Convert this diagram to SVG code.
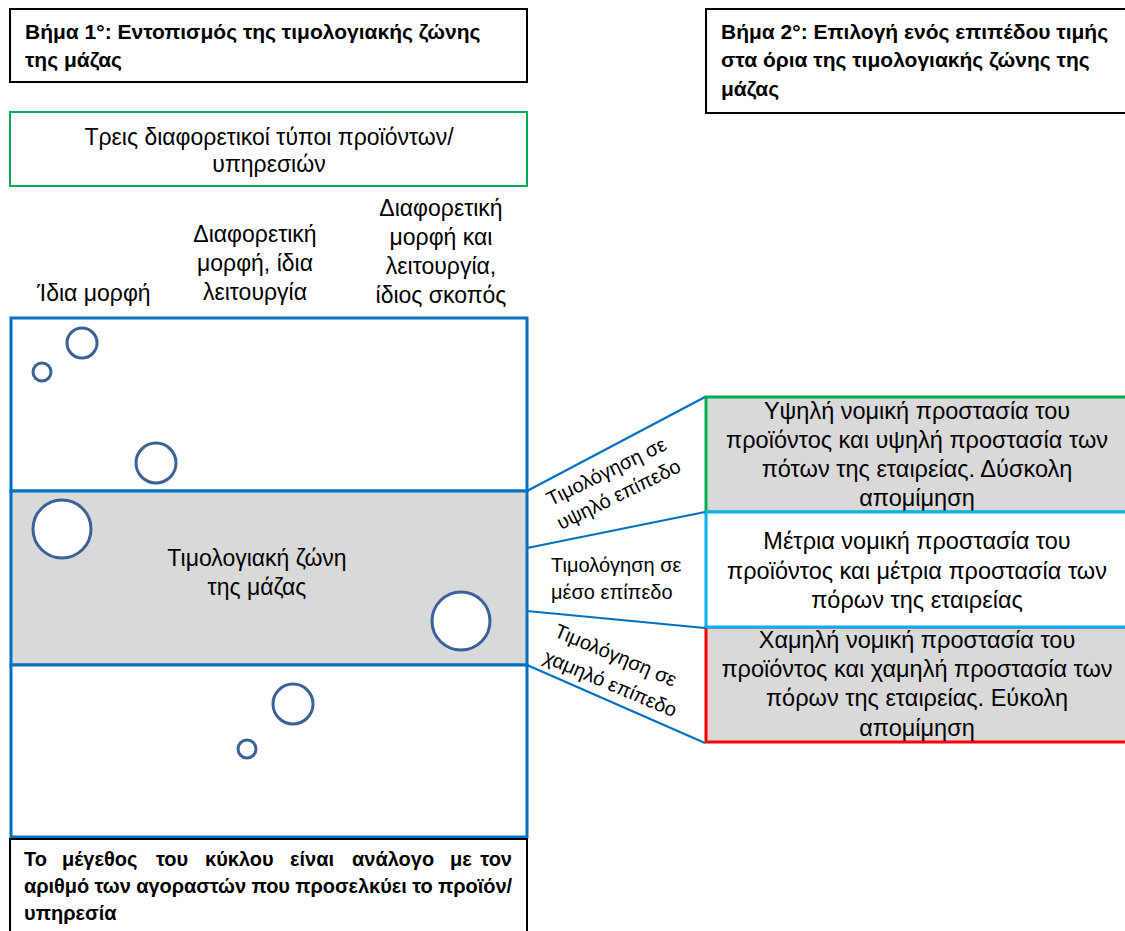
<svg xmlns="http://www.w3.org/2000/svg" width="1125" height="931" viewBox="0 0 1125 931">
<style>
text{font-family:"Liberation Sans",Arial,sans-serif;fill:#000}
.h{font-size:21px;font-weight:bold}
.c{font-size:23px;text-anchor:middle}
.r{font-size:23.5px;text-anchor:middle}
.l{font-size:20px}
.lm{font-size:20px;text-anchor:middle}
.nt{font-size:20px;font-weight:bold}
.blk{fill:#fff;stroke:#000;stroke-width:2}
.zone{stroke:#0070C0;stroke-width:3}
.circ{fill:#fff;stroke:#3A6296;stroke-width:3}
.conn{stroke:#0070C0;stroke-width:2.2;fill:none}
</style>
<rect width="1125" height="931" fill="#fff"/>
<g id="step1">
<rect class="blk" x="10" y="9" width="517" height="73"/>
<text class="h" x="25" y="39">Βήμα 1°: Εντοπισμός της τιμολογιακής ζώνης</text>
<text class="h" x="25" y="67">της μάζας</text>
</g>
<g id="step2">
<rect class="blk" x="706" y="9" width="430" height="104"/>
<text class="h" x="721" y="39">Βήμα 2°: Επιλογή ενός επιπέδου τιμής</text>
<text class="h" x="721" y="67">στα όρια της τιμολογιακής ζώνης της</text>
<text class="h" x="721" y="96">μάζας</text>
</g>
<g id="types">
<rect x="10" y="112" width="517" height="74" fill="#fff" stroke="#00B050" stroke-width="2"/>
<text class="c" x="269" y="145">Τρεις διαφορετικοί τύποι προϊόντων/</text>
<text class="c" x="269" y="172">υπηρεσιών</text>
</g>
<g id="col1">
<text class="c" x="94" y="301">Ίδια μορφή</text>
</g>
<g id="col2">
<text class="c" x="255" y="242">Διαφορετική</text>
<text class="c" x="255" y="271">μορφή, ίδια</text>
<text class="c" x="255" y="300">λειτουργία</text>
</g>
<g id="col3">
<text class="c" x="441" y="216">Διαφορετική</text>
<text class="c" x="441" y="245">μορφή και</text>
<text class="c" x="441" y="274">λειτουργία,</text>
<text class="c" x="441" y="303">ίδιος σκοπός</text>
</g>
<g id="zone-top">
<rect class="zone" x="11" y="318" width="516" height="173" fill="#fff"/>
<circle class="circ" cx="82" cy="343" r="15"/>
<circle class="circ" cx="42" cy="372" r="9"/>
<circle class="circ" cx="156" cy="463" r="20"/>
</g>
<g id="zone-mass">
<rect class="zone" x="11" y="491" width="516" height="174" fill="#D9D9D9"/>
<circle class="circ" cx="62" cy="529" r="29"/>
<circle class="circ" cx="461" cy="621" r="29"/>
<text class="c" x="257" y="566">Τιμολογιακή ζώνη</text>
<text class="c" x="257" y="595">της μάζας</text>
</g>
<g id="zone-bottom">
<rect class="zone" x="11" y="665" width="516" height="172" fill="#fff"/>
<circle class="circ" cx="293" cy="704" r="20"/>
<circle class="circ" cx="247" cy="749" r="9"/>
</g>
<g id="note">
<rect class="blk" x="10" y="839" width="517" height="110"/>
<text class="nt" y="866"><tspan x="24">Το</tspan><tspan x="62">μέγεθος</tspan><tspan x="156">του</tspan><tspan x="205">κύκλου</tspan><tspan x="290">είναι</tspan><tspan x="352">ανάλογο</tspan><tspan x="450">με</tspan></text>
<text class="nt" x="512" y="866" text-anchor="end">τον</text>
<text class="nt" x="24" y="893" textLength="488" lengthAdjust="spacing">αριθμό των αγοραστών που προσελκύει το προϊόν/</text>
<text class="nt" x="24" y="920">υπηρεσία</text>
</g>
<g id="high">
<rect x="706" y="397" width="430" height="115" fill="#D9D9D9" stroke="#00B050" stroke-width="3"/>
<text class="r" x="917" y="419">Υψηλή νομική προστασία του</text>
<text class="r" x="917" y="448">προϊόντος και υψηλή προστασία των</text>
<text class="r" x="917" y="477">πότων της εταιρείας. Δύσκολη</text>
<text class="r" x="917" y="506">απομίμηση</text>
</g>
<g id="low">
<rect x="706" y="627" width="430" height="115" fill="#D9D9D9" stroke="#FF0000" stroke-width="3"/>
<text class="r" x="917" y="648">Χαμηλή νομική προστασία του</text>
<text class="r" x="917" y="677">προϊόντος και χαμηλή προστασία των</text>
<text class="r" x="917" y="706">πόρων της εταιρείας. Εύκολη</text>
<text class="r" x="917" y="736">απομίμηση</text>
</g>
<g id="mid">
<rect x="706" y="512" width="430" height="115" fill="#fff" stroke="#00B0F0" stroke-width="3"/>
<text class="r" x="917" y="549">Μέτρια νομική προστασία του</text>
<text class="r" x="917" y="579">προϊόντος και μέτρια προστασία των</text>
<text class="r" x="917" y="608">πόρων της εταιρείας</text>
</g>
<g id="connectors">
<line class="conn" x1="527" y1="491" x2="705" y2="397"/>
<line class="conn" x1="527" y1="548" x2="705" y2="512"/>
<line class="conn" x1="527" y1="611" x2="705" y2="628"/>
<line class="conn" x1="527" y1="665" x2="705" y2="743"/>
</g>
<g id="label-high" transform="translate(612,483) rotate(-26)">
<text class="lm" x="0" y="-6">Τιμολόγηση σε</text>
<text class="lm" x="1" y="20">υψηλό επίπεδο</text>
</g>
<g id="label-mid">
<text class="l" x="551" y="572">Τιμολόγηση σε</text>
<text class="l" x="551" y="599">μέσο επίπεδο</text>
</g>
<g id="label-low" transform="translate(613,669) rotate(23)">
<text class="lm" x="-3" y="-7">Τιμολόγηση σε</text>
<text class="lm" x="3" y="21">χαμηλό επίπεδο</text>
</g>
</svg>
